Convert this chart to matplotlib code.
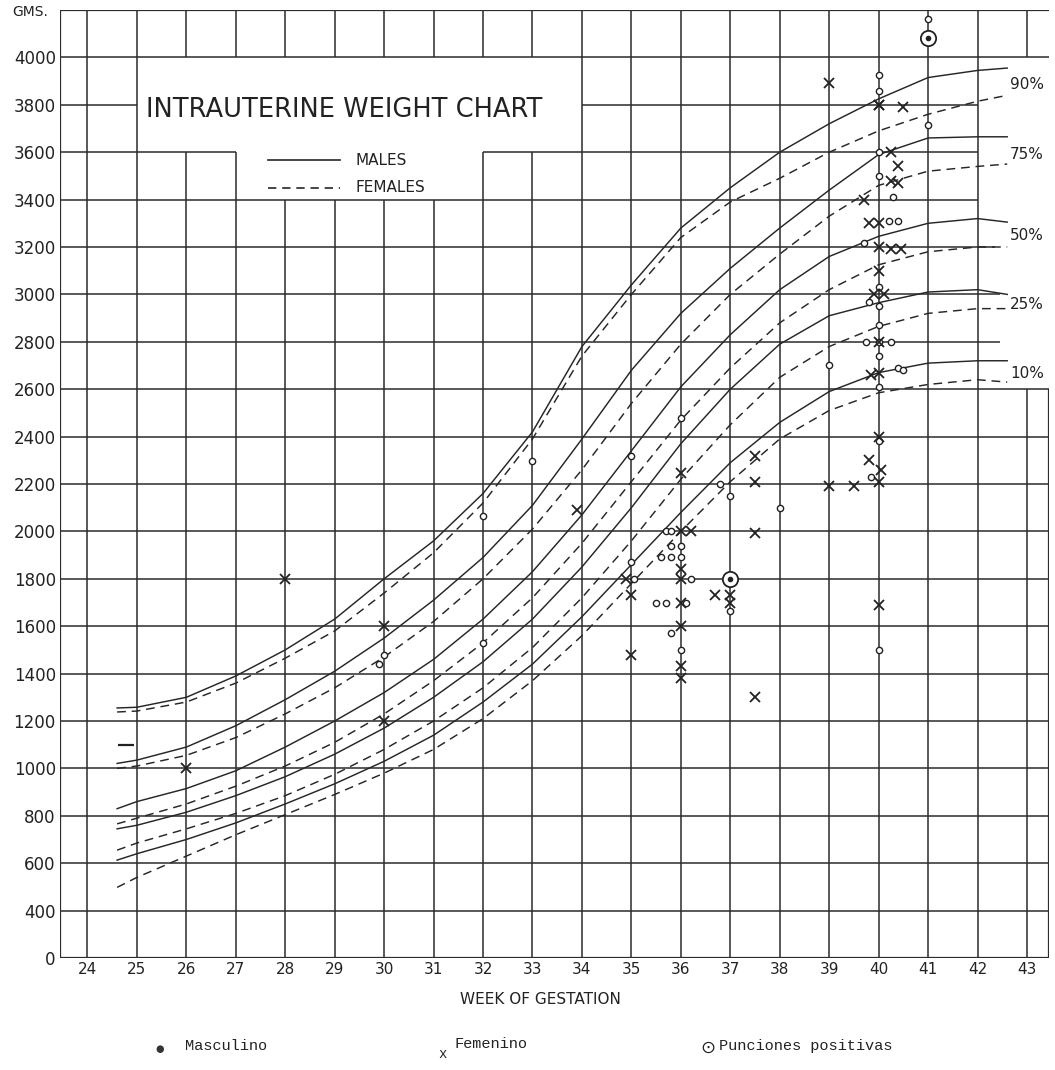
import matplotlib
matplotlib.use("Agg")
import matplotlib.pyplot as plt

# ---------------- data ----------------
weeks = [24.6, 25, 26, 27, 28, 29, 30, 31, 32, 33, 34, 35, 36, 37, 38, 39, 40, 41, 42, 42.6]

male_90 = [1255, 1258, 1300, 1390, 1500, 1630, 1800, 1960, 2160, 2420, 2780, 3040, 3280, 3450, 3600, 3720, 3825, 3915, 3945, 3955]
female_90 = [1238, 1242, 1280, 1360, 1465, 1580, 1740, 1910, 2120, 2390, 2740, 3000, 3240, 3390, 3490, 3600, 3690, 3760, 3815, 3840]
male_75 = [1021, 1035, 1090, 1180, 1290, 1410, 1550, 1710, 1890, 2110, 2390, 2680, 2920, 3110, 3280, 3440, 3590, 3660, 3665, 3665]
female_75 = [1000, 1010, 1055, 1130, 1230, 1340, 1470, 1620, 1800, 2010, 2260, 2540, 2790, 3000, 3170, 3330, 3460, 3520, 3540, 3550]
male_50 = [830, 860, 915, 990, 1090, 1200, 1320, 1460, 1630, 1830, 2070, 2340, 2610, 2830, 3020, 3160, 3245, 3300, 3320, 3305]
female_50 = [766, 790, 850, 925, 1010, 1110, 1230, 1370, 1530, 1720, 1950, 2210, 2470, 2690, 2880, 3020, 3125, 3180, 3200, 3200]
male_25 = [745, 760, 815, 885, 965, 1060, 1170, 1300, 1450, 1630, 1850, 2100, 2370, 2600, 2790, 2910, 2965, 3010, 3020, 3000]
female_25 = [655, 685, 745, 810, 885, 975, 1080, 1200, 1340, 1510, 1720, 1960, 2220, 2450, 2650, 2780, 2865, 2920, 2940, 2940]
male_10 = [613, 640, 700, 770, 850, 935, 1030, 1140, 1280, 1440, 1640, 1860, 2080, 2290, 2460, 2590, 2670, 2710, 2720, 2720]
female_10 = [498, 540, 630, 720, 805, 890, 980, 1080, 1210, 1370, 1560, 1780, 2000, 2210, 2390, 2510, 2585, 2620, 2640, 2630]

pct_labels = ["90%", "75%", "50%", "25%", "10%"]
pct_label_y = [3884, 3590, 3250, 2958, 2667]

# Masculino (open circles)
masc_w = [29.9, 30.0, 32.0, 32.0, 33.0, 35.0, 35.0, 35.05, 36.0, 35.7, 35.8, 35.8, 36.0, 35.6, 35.8, 36.0,
          36.2, 35.5, 35.7, 36.1, 35.8, 36.0, 36.8, 37.0, 37.0, 38.0, 39.0, 39.85, 40.0, 40.0, 40.0,
          40.0, 40.0, 41.0, 41.0, 40.0, 40.3, 40.2, 40.4, 39.7, 40.0, 40.0, 39.8, 40.0, 40.0, 39.75, 40.25,
          40.0, 40.4, 40.0, 40.5]
masc_g = [1440, 1480, 2065, 1530, 2295, 2320, 1870, 1800, 2480, 2000, 2000, 1940, 1940, 1890, 1890, 1890,
          1800, 1700, 1700, 1700, 1570, 1500, 2200, 2150, 1665, 2100, 2700, 2230, 2380, 1500, 3925,
          3860, 3500, 3715, 4160, 3600, 3410, 3310, 3310, 3215, 3030, 2870, 2970, 2800, 2740, 2800, 2800,
          2610, 2690, 2950, 2680]

# Femenino (crosses)
fem_w = [26.0, 28.0, 30.0, 30.0, 33.9, 34.9, 35.0, 35.0, 36.0, 36.0, 36.2, 36.0, 36.0, 36.0, 36.0, 36.0, 36.0,
         36.7, 37.0, 37.0, 37.5, 37.5, 37.5, 37.5, 39.0, 39.5, 39.8, 40.0, 40.05, 40.0, 40.0, 40.0,
         39.0, 40.0, 40.5, 40.25, 40.4, 40.25, 40.4, 39.7, 39.8, 40.0, 40.0, 40.25, 40.45, 40.0,
         39.9, 40.1, 40.0, 39.85, 40.0]
fem_g = [1000, 1800, 1600, 1200, 2090, 1800, 1730, 1480, 2245, 2000, 2000, 1840, 1800, 1700, 1600, 1430, 1380,
         1730, 1730, 1700, 2320, 2210, 1995, 1300, 2190, 2190, 2300, 2400, 2260, 2210, 1690, 3800,
         3890, 3800, 3790, 3600, 3540, 3480, 3470, 3400, 3300, 3300, 3200, 3190, 3190, 3100,
         3000, 3000, 2800, 2660, 2670]

# Punciones positivas
pos_w = [37.0, 41.0]
pos_g = [1800, 4080]

# stray pen mark near the start of the curves
mark_w = [24.78]
mark_g = [1100]

x_ticks = list(range(24, 44))
y_ticks = list(range(200, 4001, 200))
y_tick_labels = ["0"] + [str(v) for v in range(400, 4001, 200)]

# ---------------- figure ----------------
W_PX, H_PX = 1055, 1070
fig = plt.figure(figsize=(W_PX / 100, H_PX / 100), dpi=100)
fig.patch.set_facecolor("white")
ax = fig.add_axes([60 / W_PX, 1 - 958 / H_PX, 989 / W_PX, 948 / H_PX])
xl, xr = 23.445, 43.445
yb, yt = 200, 4200
ax.set_xlim(xl, xr)
ax.set_ylim(yb, yt)
for s in ax.spines.values():
    s.set_visible(False)

gc = "#2b2b2b"
glw = 1.1

# horizontal grid segments (value, start week, end week)
hseg = [(4000, xl, xr), (3800, xl, 25), (3800, 34, 42), (3600, xl, 27), (3600, 32, 42),
        (3400, xl, 42), (3200, xl, 42.35), (3000, xl, 42.45), (2800, xl, 42.45)]
hseg += [(v, xl, xr) for v in range(400, 2601, 200)]
for v, a, b in hseg:
    ax.hlines(v, a, b, color=gc, lw=glw, zorder=1)

# vertical grid segments (week, from, to)
vseg = []
for w in x_ticks:
    if w in (24, 25) or 34 <= w <= 42:
        vseg.append((w, yb, yt))
    elif w in (26, 27, 32, 33):
        vseg += [(w, yb, 3600), (w, 4000, yt)]
    elif 28 <= w <= 31:
        vseg += [(w, yb, 3400), (w, 4000, yt)]
    elif w == 43:
        vseg += [(w, yb, 2600), (w, 4000, yt)]
for w, a, b in vseg:
    ax.vlines(w, a, b, color=gc, lw=glw, zorder=1)

# frame
ax.hlines([yb, yt], xl, xr, color=gc, lw=1.6, zorder=1)
ax.vlines(xl, yb, yt, color=gc, lw=1.6, zorder=1)
ax.vlines(xr, yb, 2600, color=gc, lw=1.6, zorder=1)

# percentile curves
lc = "#262626"
for m, f in [(male_90, female_90), (male_75, female_75), (male_50, female_50),
             (male_25, female_25), (male_10, female_10)]:
    ax.plot(weeks, m, color=lc, lw=1.05, ls="-", zorder=3)
    ax.plot(weeks, f, color=lc, lw=1.05, ls=(0, (6, 4)), zorder=3)

for lab, yv in zip(pct_labels, pct_label_y):
    ax.text(42.66, yv, lab, fontsize=11, color="#222", va="center", ha="left",
            family="DejaVu Sans", zorder=4)

# scatter
ax.plot(masc_w, masc_g, ls="none", marker="o", ms=4.5, mfc="white", mec="#222", mew=1.0, zorder=5)
ax.plot(fem_w, fem_g, ls="none", marker="x", ms=7, mec="#222", mew=1.3, zorder=5)
ax.plot(pos_w, pos_g, ls="none", marker="o", ms=11, mfc="white", mec="#222", mew=1.3, zorder=6)
ax.plot(pos_w, pos_g, ls="none", marker="o", ms=3, mfc="#222", mec="#222", zorder=7)
ax.plot(mark_w, mark_g, ls="none", marker="_", ms=11, mec="#222", mew=1.6, zorder=5)

# title block
ax.text(25.18, 3780, "INTRAUTERINE WEIGHT CHART", fontsize=18.5, color="#222",
        va="center", ha="left", family="DejaVu Sans", zorder=4)
ax.plot([27.65, 29.1], [3567, 3567], color=lc, lw=1.2, ls="-")
ax.plot([27.65, 29.1], [3449, 3449], color=lc, lw=1.2, ls=(0, (5, 3.5)))
ax.text(29.42, 3567, "MALES", fontsize=11, color="#222", va="center", ha="left")
ax.text(29.42, 3449, "FEMALES", fontsize=11, color="#222", va="center", ha="left")

# ticks
ax.set_xticks(x_ticks)
ax.set_xticklabels([str(w) for w in x_ticks], fontsize=11, color="#222")
ax.set_yticks(y_ticks)
ax.set_yticklabels(y_tick_labels, fontsize=12, color="#222")
ax.tick_params(axis="both", length=0)
ax.tick_params(axis="x", pad=3)
ax.tick_params(axis="y", pad=3)

fig.text(30 / W_PX, 1 - 12 / H_PX, "GMS.", fontsize=10, ha="center", va="center", color="#222")
fig.text(540 / W_PX, 1 - 1000 / H_PX, "WEEK OF GESTATION", fontsize=11, ha="center", va="center", color="#222")

# bottom legend
mono = "Liberation Mono"
fig.text(160 / W_PX, 1 - 1049 / H_PX, "\u25cf", fontsize=7, ha="center", va="center", color="#333")
fig.text(185 / W_PX, 1 - 1046 / H_PX, "Masculino", fontsize=11, ha="left", va="center", family=mono, color="#222")
fig.text(443 / W_PX, 1 - 1054 / H_PX, "x", fontsize=10, ha="center", va="center", family=mono, color="#222")
fig.text(455 / W_PX, 1 - 1044 / H_PX, "Femenino", fontsize=11, ha="left", va="center", family=mono, color="#222")
fig.text(708 / W_PX, 1 - 1048 / H_PX, "\u2299", fontsize=13, ha="center", va="center", family="DejaVu Sans", color="#222")
fig.text(719 / W_PX, 1 - 1046 / H_PX, "Punciones positivas", fontsize=11, ha="left", va="center", family=mono, color="#222")

fig.savefig("out.png", dpi=100, facecolor="white")
